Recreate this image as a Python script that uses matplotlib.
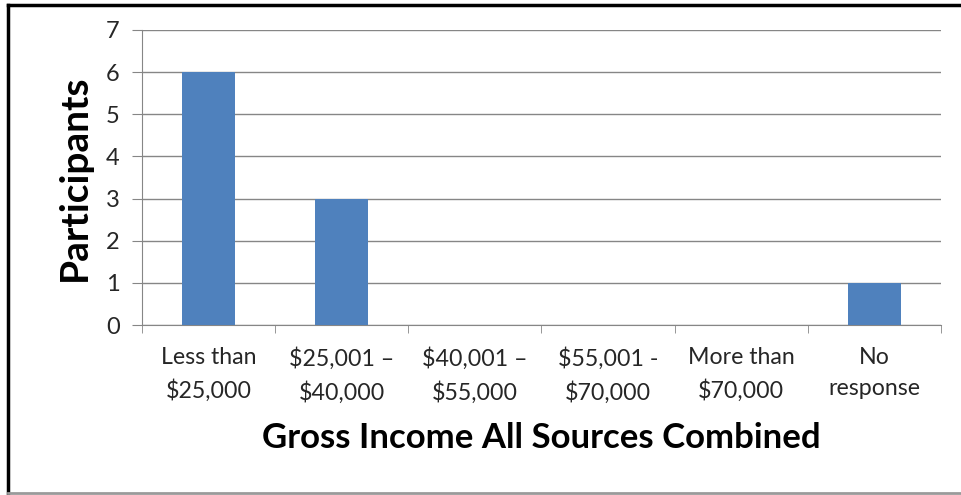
import numpy as np
import matplotlib.pyplot as plt
from matplotlib.lines import Line2D

categories = ['Less than\n$25,000', '$25,001 \u2013\n$40,000', '$40,001 \u2013\n$55,000',
              '$55,001 -\n$70,000', 'More than\n$70,000', 'No\nresponse']
participants = [6, 3, 0, 0, 0, 1]

plt.rcParams['font.family'] = ['Lato', 'DejaVu Sans']

fig = plt.figure(figsize=(9.62, 4.95), dpi=100)
ax = fig.add_axes([142/962, 1-325/495, (941-142)/962, 295/495])

x = np.arange(len(categories))
ax.bar(x, participants, width=0.4, color='#4F81BD', zorder=3)

ax.set_xlim(-0.5, len(categories)-0.5)
ax.set_ylim(0, 7)
ax.set_yticks(range(0, 8))
ax.grid(axis='y', color='#868686', linewidth=1, zorder=0)

ax.set_xticks(x)
ax.set_xticklabels(categories, fontsize=16.7, color='#262626', linespacing=1.6)
ax.tick_params(axis='x', length=0, pad=16)
ax.set_xticks(np.arange(-0.5, len(categories)), minor=True)
ax.tick_params(axis='x', which='minor', length=6, color='#868686', direction='out')
ax.tick_params(axis='y', length=7, color='#868686', labelsize=17, labelcolor='#262626', pad=9)

for s in ['top', 'right']:
    ax.spines[s].set_visible(False)
for s in ['left', 'bottom']:
    ax.spines[s].set_color('#868686')

ax.set_ylabel('Participants', fontsize=28, fontweight='bold', labelpad=10)
ax.set_xlabel('Gross Income All Sources Combined', fontsize=25, fontweight='bold', labelpad=13)

# outer frame
fig.add_artist(Line2D([8/962, 8/962], [1-5/495, 1-493/495], color='black', linewidth=2.5, transform=fig.transFigure))
fig.add_artist(Line2D([8/962, 1], [1-5/495, 1-5/495], color='black', linewidth=2.5, transform=fig.transFigure))
fig.add_artist(Line2D([8/962, 1], [1-493/495, 1-493/495], color='#9a9a9a', linewidth=2, transform=fig.transFigure))

fig.savefig('out.png', dpi=100)
